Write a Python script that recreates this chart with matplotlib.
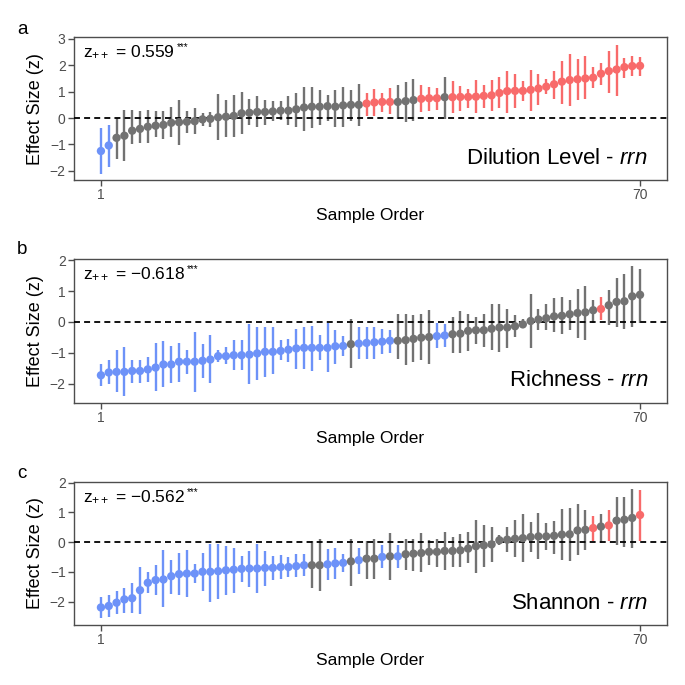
import numpy as np
import matplotlib
matplotlib.use("Agg")
import matplotlib.pyplot as plt

plt.rcParams['font.family'] = ['Liberation Sans', 'DejaVu Sans']
plt.rcParams['mathtext.fontset'] = 'custom'
plt.rcParams['mathtext.rm'] = 'Liberation Sans'
plt.rcParams['mathtext.it'] = 'Liberation Sans:italic'
plt.rcParams['mathtext.bf'] = 'Liberation Sans:bold'

# effect sizes (z) and 95% CI, samples sorted by z
dil_z = [-1.25, -1.04, -0.75, -0.67, -0.48, -0.41, -0.33, -0.29, -0.26, -0.18,
         -0.16, -0.14, -0.12, -0.05, -0.03, 0.03, 0.05, 0.08, 0.18, 0.20,
         0.23, 0.23, 0.25, 0.28, 0.28, 0.33, 0.40, 0.43, 0.43, 0.45,
         0.43, 0.48, 0.50, 0.50, 0.55, 0.59, 0.61, 0.61, 0.61, 0.64,
         0.68, 0.73, 0.75, 0.75, 0.79, 0.79, 0.80, 0.80, 0.81, 0.84,
         0.86, 0.95, 1.02, 1.03, 1.03, 1.07, 1.12, 1.19, 1.28, 1.38,
         1.44, 1.47, 1.50, 1.53, 1.68, 1.78, 1.84, 1.93, 1.97, 1.98]
dil_hi = [-0.38, -0.26, 0.02, 0.30, 0.30, 0.28, 0.30, 0.28, 0.28, 0.42,
          0.68, 0.25, 0.37, 0.20, 0.21, 0.90, 0.68, 0.88, 1.00, 0.71,
          0.83, 0.70, 0.65, 0.63, 0.83, 0.95, 1.18, 1.18, 1.05, 0.88,
          1.05, 1.18, 1.08, 1.28, 0.95, 1.09, 0.96, 1.13, 1.25, 1.38,
          1.47, 1.25, 1.18, 1.15, 1.55, 1.40, 1.22, 1.09, 1.43, 1.25,
          1.43, 1.55, 1.80, 1.68, 1.40, 1.84, 1.68, 1.47, 1.80, 2.16,
          2.41, 2.22, 2.34, 1.93, 2.09, 2.53, 2.78, 2.26, 2.34, 2.31]
dil_lo = [-2.13, -1.85, -1.54, -1.63, -1.00, -0.95, -0.93, -0.73, -0.80, -0.73,
          -1.04, -0.58, -0.60, -0.30, -0.35, -0.83, -0.70, -0.70, -0.60, -0.25,
          -0.35, -0.25, -0.10, -0.08, -0.25, -0.35, -0.48, -0.38, -0.25, -0.10,
          -0.35, -0.35, -0.13, -0.30, 0.09, 0.09, 0.21, 0.15, -0.02, -0.16,
          -0.13, 0.21, 0.28, 0.30, -0.02, 0.18, 0.28, 0.38, 0.18, 0.38,
          0.28, 0.38, 0.18, 0.38, 0.65, 0.28, 0.50, 0.90, 0.71, 0.55,
          0.46, 0.68, 0.71, 1.15, 1.25, 0.96, 0.84, 1.53, 1.59, 1.59]

ric_z = [-1.73, -1.64, -1.62, -1.62, -1.59, -1.59, -1.54, -1.48, -1.38, -1.38,
         -1.29, -1.29, -1.29, -1.26, -1.22, -1.11, -1.11, -1.08, -1.08, -1.06,
         -1.02, -0.97, -0.97, -0.94, -0.90, -0.86, -0.84, -0.84, -0.84, -0.84,
         -0.79, -0.78, -0.72, -0.70, -0.68, -0.66, -0.64, -0.61, -0.61, -0.59,
         -0.55, -0.51, -0.49, -0.46, -0.44, -0.40, -0.38, -0.29, -0.27, -0.27,
         -0.22, -0.18, -0.18, -0.14, -0.08, 0.03, 0.08, 0.12, 0.18, 0.20,
         0.25, 0.29, 0.31, 0.38, 0.42, 0.54, 0.65, 0.67, 0.83, 0.88]
ric_hi = [-1.37, -1.24, -0.90, -0.81, -1.22, -1.22, -1.13, -0.68, -0.61, -0.79,
          -0.68, -0.90, -0.32, -0.72, -0.43, -0.92, -0.81, -0.57, -0.57, -0.08,
          -0.16, -0.16, -0.18, -0.59, -0.54, -0.22, -0.18, -0.14, -0.43, -0.03,
          -0.27, -0.46, 0.11, -0.16, -0.18, -0.18, -0.22, -0.25, 0.27, 0.27,
          0.22, 0.27, 0.38, -0.03, -0.08, 0.16, 0.36, 0.27, 0.16, 0.27,
          0.59, 0.59, 0.43, 0.22, 0.11, 0.92, 0.43, 0.59, 0.76, 0.81,
          0.70, 1.08, 1.15, 0.70, 0.81, 1.02, 1.43, 1.56, 1.80, 1.73]
ric_lo = [-2.08, -2.02, -2.27, -2.41, -1.99, -1.97, -1.94, -2.23, -2.10, -1.99,
          -1.94, -1.69, -2.27, -1.83, -1.99, -1.29, -1.35, -1.56, -1.56, -2.02,
          -1.89, -1.78, -1.69, -1.24, -1.29, -1.54, -1.54, -1.59, -1.24, -1.62,
          -1.35, -1.11, -1.51, -1.19, -1.19, -1.19, -1.05, -1.00, -1.19, -1.40,
          -1.29, -1.24, -1.35, -0.86, -0.81, -1.02, -1.02, -0.94, -0.70, -0.81,
          -0.92, -0.97, -0.86, -0.49, -0.18, -0.83, -0.27, -0.27, -0.32, -0.38,
          -0.25, -0.51, -0.59, -0.03, 0.05, -0.11, -0.16, -0.22, -0.16, -0.02]

sha_z = [-2.20, -2.15, -2.04, -1.93, -1.89, -1.62, -1.37, -1.28, -1.26, -1.15,
         -1.08, -1.06, -1.06, -1.00, -1.00, -0.98, -0.95, -0.93, -0.90, -0.89,
         -0.89, -0.87, -0.87, -0.84, -0.84, -0.81, -0.78, -0.78, -0.78, -0.75,
         -0.72, -0.70, -0.65, -0.61, -0.56, -0.56, -0.50, -0.48, -0.48, -0.41,
         -0.39, -0.37, -0.33, -0.33, -0.30, -0.30, -0.28, -0.22, -0.14, -0.11,
         -0.08, 0.06, 0.08, 0.11, 0.13, 0.17, 0.19, 0.19, 0.21, 0.25,
         0.26, 0.39, 0.41, 0.47, 0.52, 0.56, 0.72, 0.75, 0.81, 0.91]
sha_hi = [-1.84, -1.78, -1.64, -1.56, -1.39, -0.84, -1.00, -0.78, -0.28, -0.59,
          -0.37, -0.26, -0.75, -0.37, -0.06, -0.08, -0.14, -0.19, -0.48, -0.30,
          -0.08, -0.30, -0.48, -0.45, -0.52, -0.41, -0.41, 0.02, 0.11, -0.22,
          -0.19, -0.41, 0.11, -0.19, 0.02, 0.11, -0.11, 0.30, -0.11, 0.11,
          0.11, 0.30, 0.08, 0.11, 0.33, 0.17, 0.28, 0.33, 0.75, 0.56,
          0.52, 0.22, 0.50, 0.75, 0.95, 0.67, 0.97, 0.64, 0.72, 1.11,
          1.15, 1.28, 1.08, 0.86, 0.95, 1.08, 1.50, 1.50, 1.78, 1.75]
sha_lo = [-2.56, -2.51, -2.42, -2.37, -2.40, -2.42, -1.73, -1.78, -2.20, -1.75,
          -1.78, -1.86, -1.37, -1.64, -2.01, -1.90, -1.78, -1.71, -1.34, -1.51,
          -1.73, -1.48, -1.28, -1.23, -1.17, -1.19, -1.15, -1.56, -1.64, -1.28,
          -1.26, -1.00, -1.48, -1.06, -1.23, -1.26, -0.89, -1.28, -0.89, -0.95,
          -0.97, -1.00, -0.78, -0.84, -0.93, -0.84, -0.84, -0.72, -1.04, -0.84,
          -0.67, -0.11, -0.33, -0.52, -0.67, -0.33, -0.56, -0.28, -0.41, -0.61,
          -0.64, -0.45, -0.28, 0.03, -0.02, 0.03, -0.11, -0.17, -0.19, 0.03]

panels = [
    ("a", dil_z, dil_lo, dil_hi, "0.559", "Dilution Level", (-2.35, 3.06), [-2, -1, 0, 1, 2, 3]),
    ("b", ric_z, ric_lo, ric_hi, "\u22120.618", "Richness", (-2.62, 2.03), [-2, -1, 0, 1, 2]),
    ("c", sha_z, sha_lo, sha_hi, "\u22120.562", "Shannon", (-2.79, 2.02), [-2, -1, 0, 1, 2]),
]

BLUE = "#6d92f8"
RED = "#f86a6a"
GREY = "#727272"

fig = plt.figure(figsize=(6.85, 6.85), dpi=100)
bottoms = [0.7372, 0.4121, 0.0876]
heights = [0.2083, 0.2093, 0.2088]
tag_y = [29.3, 250, 474]   # px from top

for (tag, z, lo, hi, zpp, name, ylim, yticks), b, h, ty in zip(panels, bottoms, heights, tag_y):
    ax = fig.add_axes([0.108, b, 0.8657, h])
    z = np.array(z)
    lo = np.array(lo)
    hi = np.array(hi)
    x = np.arange(1, len(z) + 1)
    cols = np.where(hi < 0, BLUE, np.where(lo > 0, RED, GREY))

    ax.vlines(x, lo, hi, colors=cols, lw=1.7, zorder=2)
    ax.axhline(0, color="black", lw=1.3, ls=(0, (3.3, 2.3)), zorder=3)
    ax.scatter(x, z, c=cols, s=36, edgecolors="none", zorder=4)

    ax.set_xlim(-2.45, 73.45)
    ax.set_ylim(*ylim)
    ax.set_xticks([1, 70])
    ax.set_yticks(yticks)
    ax.tick_params(colors="#4d4d4d", labelsize=10, length=4, width=1, pad=2)
    for s in ax.spines.values():
        s.set_color("#4d4d4d")
        s.set_linewidth(1.0)

    ax.set_xlabel("Sample Order", fontsize=12.5, labelpad=4)
    ax.set_ylabel("Effect Size (z)", fontsize=13, labelpad=4)

    t = ax.text(0.016, 0.865, "z$_{++}$ = " + zpp, transform=ax.transAxes,
                fontsize=12.5, ha="left", va="baseline")
    ax.annotate("***", xy=(1, 1), xycoords=t, xytext=(1, 1), textcoords="offset points",
                fontsize=7, ha="left", va="top")
    ax.text(0.968, 0.115, name + " - $\\mathit{rrn}$", transform=ax.transAxes,
            fontsize=16, ha="right", va="baseline")

    fig.text(17 / 685, 1 - ty / 685, tag, fontsize=13.5, ha="left", va="center")

fig.savefig("out.png", dpi=100)
